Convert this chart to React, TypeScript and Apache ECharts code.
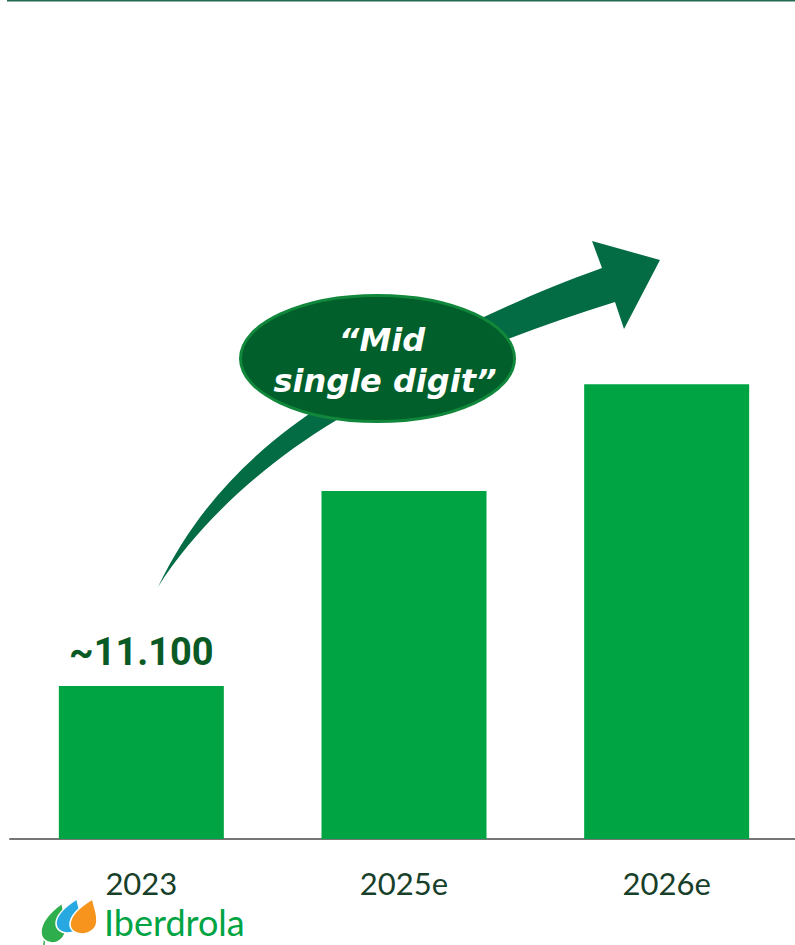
import React, { useEffect, useRef } from "react";
import * as echarts from "echarts";

// Revenue-style bar chart: actual 2023 and estimates for 2025/2026
const categories = ["2023", "2025e", "2026e"];
const values = [11100, 25250, 33000];
const labelledIndex = [0]; // only the actual year carries a value label
const growthLines = ["\u201CMid", "single digit\u201D"];
const brandName = "Iberdrola";

// Tapered curved arrow that rises over the bars
echarts.graphic.registerShape(
  "growthArrow",
  echarts.graphic.extendPath(
    "M158 587 C 200 500, 260 445, 330 400 C 400 360, 480 312, 602 268 L 592 241 L 660 260 L 624 329 L 615 302 C 520 332, 420 370, 335 421 C 270 460, 200 520, 158 587 Z",
    {}
  )
);

// Single flame-like leaf used three times in the brand mark
echarts.graphic.registerShape(
  "brandLeaf",
  echarts.graphic.extendPath(
    "M21 0 C 9 8, 0 17, 0 26 C 0 32, 5 36, 11 36 C 19 36, 25 30, 25 22 C 25 13, 22 7, 21 0 Z",
    {}
  )
);

const thousands = (v: number) =>
  String(v).replace(/\B(?=(\d{3})+(?!\d))/g, ".");

export default function App() {
  const ref = useRef<HTMLDivElement>(null);

  useEffect(() => {
    if (!ref.current) return;
    const chart = echarts.init(ref.current, null, { renderer: "svg" });

    const barData = values.map((v, i) => ({
      value: v,
      label: labelledIndex.includes(i)
        ? {
            show: true,
            position: "top",
            distance: 15,
            formatter: (p: any) => "~" + thousands(p.value),
            fontFamily: "Roboto",
            fontWeight: "bold",
            fontSize: 38,
            color: "#0a5a26",
          }
        : { show: false },
    }));

    chart.setOption({
      animation: false,
      backgroundColor: "#ffffff",
      grid: { left: 10, right: 2, top: 12, bottom: 106 },
      xAxis: {
        type: "category",
        data: categories,
        axisLine: { lineStyle: { color: "#767676", width: 2 } },
        axisTick: { show: false },
        axisLabel: {
          margin: 28,
          fontFamily: "Lato",
          fontSize: 31,
          color: "#173f2a",
        },
      },
      yAxis: {
        type: "value",
        min: 0,
        max: 60000,
        show: false,
        splitLine: { show: false },
      },
      series: [
        {
          type: "bar",
          data: barData,
          barWidth: 165,
          itemStyle: { color: "#00a443" },
        },
      ],
      graphic: [
        {
          type: "line",
          shape: { x1: 7, y1: 0.75, x2: 795, y2: 0.75 },
          style: { stroke: "#236a50", lineWidth: 1.5 },
        },
        {
          type: "growthArrow",
          x: 0,
          y: 0,
          style: { fill: "#046c45" },
        },
        {
          type: "ellipse",
          shape: { cx: 377.5, cy: 358.5, rx: 137, ry: 63 },
          style: { fill: "#005f2a", stroke: "#11873b", lineWidth: 3 },
        },
        {
          type: "text",
          x: 382,
          y: 340,
          style: {
            text: growthLines[0],
            font: 'italic bold 32px "DejaVu Sans"',
            fill: "#ffffff",
            textAlign: "center",
            textVerticalAlign: "middle",
          },
        },
        {
          type: "text",
          x: 385,
          y: 381,
          style: {
            text: growthLines[1],
            font: 'italic bold 32px "DejaVu Sans"',
            fill: "#ffffff",
            textAlign: "center",
            textVerticalAlign: "middle",
          },
        },
        // brand mark: three overlapping leaves and the wordmark
        {
          type: "line",
          shape: { x1: 45, y1: 933, x2: 44, y2: 945 },
          style: { stroke: "#2fae4e", lineWidth: 1.5 },
        },
        {
          type: "brandLeaf",
          x: 41,
          y: 903,
          scaleX: 1,
          scaleY: 40 / 36,
          style: { fill: "#2fae4e", stroke: "#ffffff", lineWidth: 1.5 },
        },
        {
          type: "brandLeaf",
          x: 56,
          y: 899,
          scaleX: 25 / 25,
          scaleY: 34 / 36,
          style: { fill: "#27a8e0", stroke: "#ffffff", lineWidth: 1.5 },
        },
        {
          type: "brandLeaf",
          x: 70,
          y: 899,
          scaleX: 27 / 25,
          scaleY: 35 / 36,
          style: { fill: "#f7941d", stroke: "#ffffff", lineWidth: 1.5 },
        },
        {
          type: "text",
          x: 104,
          y: 922,
          style: {
            text: brandName,
            font: '36px "Lato"',
            fill: "#00a443",
            textAlign: "left",
            textVerticalAlign: "middle",
          },
        },
      ],
    });

    return () => chart.dispose();
  }, []);

  return (
    <div
      style={{
        position: "absolute",
        left: 0,
        top: 0,
        width: 795,
        height: 945,
        overflow: "hidden",
      }}
    >
      <div ref={ref} style={{ width: 800, height: 945 }} />
    </div>
  );
}
